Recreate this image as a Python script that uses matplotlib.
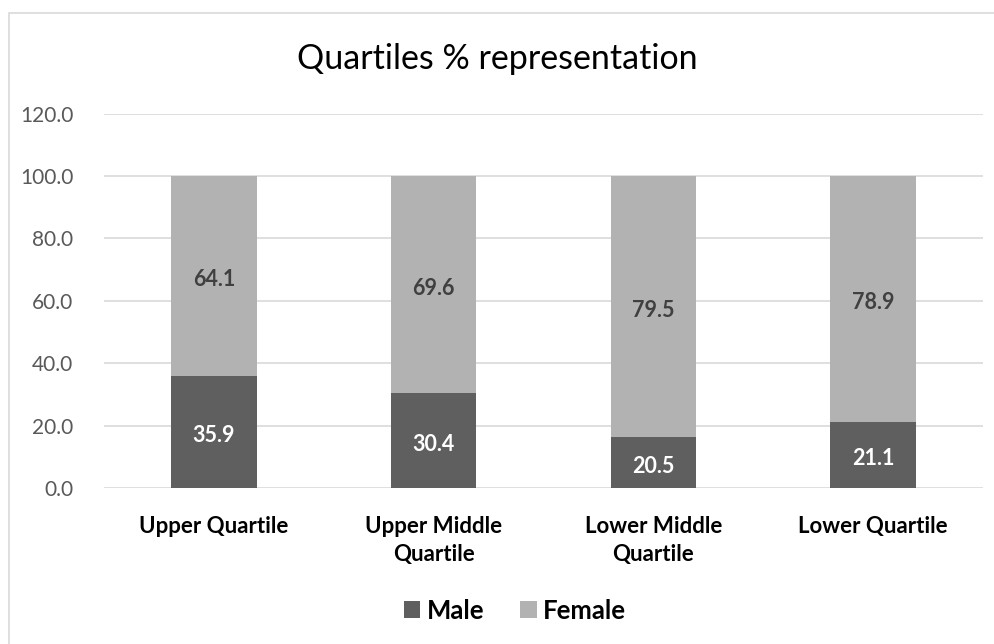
import matplotlib.pyplot as plt
from matplotlib.patches import Rectangle

categories = ["Upper Quartile", "Upper Middle\nQuartile", "Lower Middle\nQuartile", "Lower Quartile"]
male = [35.9, 30.4, 16.5, 21.1]
female = [64.1, 69.6, 83.5, 78.9]
male_labels = ["35.9", "30.4", "20.5", "21.1"]
female_labels = ["64.1", "69.6", "79.5", "78.9"]
yticks = [0, 20, 40, 60, 80, 100, 120]

dark = "#5f5f5f"
light = "#b2b2b2"
font = "Lato"

fig = plt.figure(figsize=(9.94, 6.44), dpi=100)
ax = fig.add_axes([0.1046, 0.2422, 0.8844, 0.5814])

x = range(len(categories))
ax.bar(x, male, width=0.39, color=dark, label="Male", zorder=3)
ax.bar(x, female, width=0.39, bottom=male, color=light, label="Female", zorder=3)

# data labels centred in each segment
for i in x:
    ax.text(i, male[i] / 2 - 1.2, male_labels[i], ha="center", va="center",
            color="white", fontsize=15.5, fontweight="bold", family=font, zorder=4)
    ax.text(i, male[i] + female[i] / 2 - 1.2, female_labels[i], ha="center", va="center",
            color="#404040", fontsize=15.5, fontweight="bold", family=font, zorder=4)

ax.set_xlim(-0.5, len(categories) - 0.5)
ax.set_ylim(0, 120)
ax.set_yticks(yticks)
ax.set_yticklabels([f"{v:.1f}" for v in yticks], family=font, fontsize=15, color="#595959")
ax.set_xticks(list(x))
ax.set_xticklabels(categories, family=font, fontsize=16, fontweight="bold", color="black",
                   linespacing=1.45, va="top")
ax.tick_params(length=0)
ax.tick_params(axis="x", pad=20)
ax.tick_params(axis="y", pad=22)
ax.grid(axis="y", color="#d9d9d9", linewidth=1.2, zorder=0)
for s in ax.spines.values():
    s.set_visible(False)

fig.text(0.5, 0.908, "Quartiles % representation", ha="center", va="center",
         fontsize=24.5, family=font, color="black")

leg = fig.legend(loc="center", bbox_to_anchor=(0.518, 0.052), ncol=2, frameon=False,
                 prop={"family": font, "size": 18.5, "weight": "bold"},
                 handlelength=0.65, handleheight=0.65, handletextpad=0.25, columnspacing=1.4)

# chart border (only top and left edges visible)
fig.patches.append(Rectangle((9 / 994, -0.05), 1.1, 1 - 13 / 644 + 0.05,
                             transform=fig.transFigure, fill=False,
                             edgecolor="#d9d9d9", linewidth=1.2))

fig.savefig("out.png", dpi=100)
